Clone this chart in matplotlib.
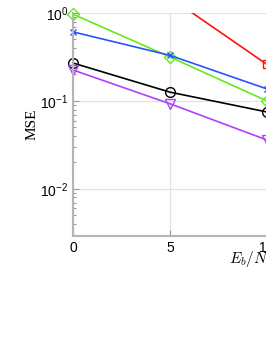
import matplotlib
matplotlib.use("Agg")
import matplotlib.pyplot as plt
from matplotlib.ticker import LogLocator, NullFormatter

# Eb/N0 sweep (dB) and MSE per curve
snr_db = [0, 5, 10]
mse_red = [3.0, 1.5, 0.26]
mse_green = [0.97, 0.316, 0.10]
mse_blue = [0.61, 0.33, 0.137]
mse_black = [0.27, 0.126, 0.075]
mse_purple = [0.225, 0.093, 0.036]

plt.rcParams["mathtext.fontset"] = "cm"

fig = plt.figure(figsize=(2.66, 3.44), dpi=100)
ax = fig.add_axes([73 / 266, 108 / 344, 388 / 266, 223 / 344])

ax.semilogy(snr_db, mse_red, color="#ff1010", marker="s", mfc="none", ms=6, lw=1.2)
ax.semilogy(snr_db, mse_green, color="#66e81a", marker="D", mfc="none", ms=6, lw=1.2, clip_on=False)
ax.semilogy(snr_db, mse_blue, color="#2a52ff", marker="x", ms=5, lw=1.2, clip_on=False)
ax.semilogy(snr_db, mse_black, color="black", marker="o", mfc="none", ms=7, lw=1.2, clip_on=False)
ax.semilogy(snr_db, mse_purple, color="#b040ff", marker="v", mfc="none", ms=7, lw=1.2, clip_on=False)

ax.set_xlim(0, 20)
ax.set_ylim(2.92e-3, 1.0)
ax.set_xticks([0, 5, 10, 15, 20])
ax.yaxis.set_major_locator(LogLocator(base=10, numticks=10))
ax.yaxis.set_minor_locator(LogLocator(base=10, subs=range(2, 10), numticks=10))
ax.yaxis.set_minor_formatter(NullFormatter())

ax.grid(True, which="major", color="#e3e3e3", lw=0.9)
ax.set_axisbelow(True)
for side in ["top", "right"]:
    ax.spines[side].set_visible(False)
for side in ["left", "bottom"]:
    ax.spines[side].set_color("#b5b5b5")
    ax.spines[side].set_linewidth(1.5)
ax.tick_params(which="both", direction="in", colors="#9a9a9a", labelcolor="black",
               labelsize=10, width=0.8)
ax.tick_params(which="major", length=4)
ax.tick_params(which="minor", length=2)
for lbl in ax.get_xticklabels() + ax.get_yticklabels():
    lbl.set_family("Liberation Sans")

ax.set_ylabel("MSE", family="Liberation Serif", fontsize=11, labelpad=1)
ax.set_xlabel(r"$E_b/N_0$ (dB)", family="Liberation Serif", fontsize=11, labelpad=-4)

fig.savefig("out.png", dpi=100)
